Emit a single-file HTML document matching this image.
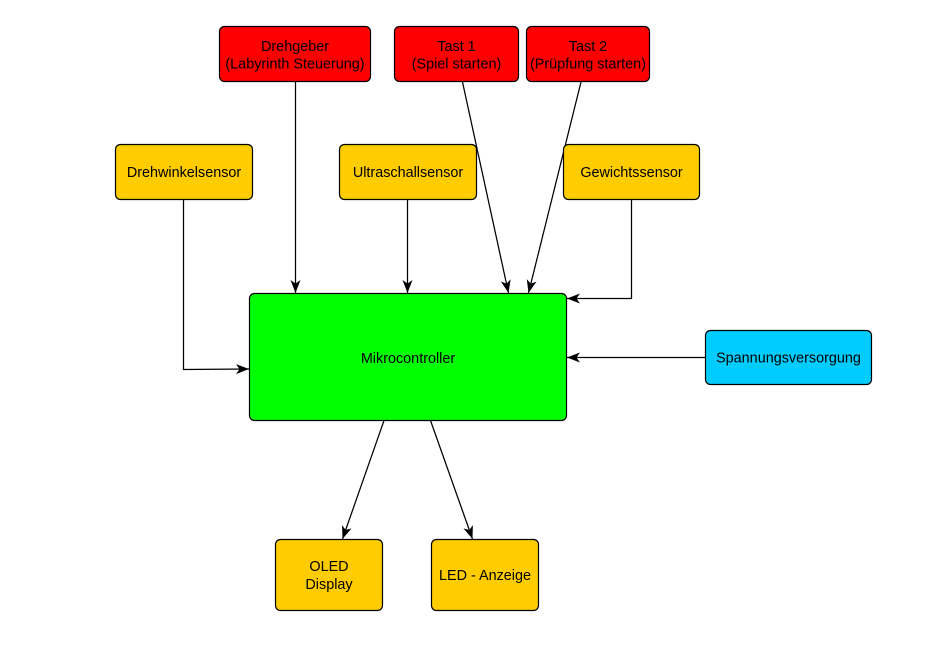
<!DOCTYPE html>
<html>
<head>
<meta charset="utf-8">
<style>
  html,body{margin:0;padding:0;background:#fff;}
  svg{display:block;}
  text{font-family:"Liberation Sans",Arial,sans-serif;font-size:14.4px;fill:#000;text-anchor:middle;}
</style>
</head>
<body>
<svg width="946" height="653" viewBox="0 0 946 653" xmlns="http://www.w3.org/2000/svg">
  <defs>
    <marker id="a" markerUnits="userSpaceOnUse" markerWidth="15" markerHeight="12" refX="13" refY="6" orient="auto">
      <path d="M0,1 L13,6 L0,11 L3.5,6 Z" fill="#000"/>
    </marker>
  </defs>

  <!-- connectors -->
  <g stroke="#000" stroke-width="1.25" fill="none" marker-end="url(#a)">
    <path d="M295.5,82 L295.5,293"/>
    <path d="M407.5,199.5 L407.5,293"/>
    <path d="M462.5,82 L508.5,293"/>
    <path d="M581,82 L528.5,293"/>
    <path d="M631.5,199.5 L631.5,298.5 L567,298.5"/>
    <path d="M705.5,357.5 L567,357.5"/>
    <path d="M183.5,199.5 L183.5,369.5 L249,369"/>
    <path d="M384,420.5 L342.5,539"/>
    <path d="M430.5,420.5 L472.5,539"/>
  </g>

  <!-- boxes -->
  <g stroke="#000" stroke-width="1.2">
    <rect x="219.5" y="26.5" width="151" height="55" rx="5" fill="#FF0000"/>
    <rect x="394.5" y="26.5" width="124" height="55" rx="5" fill="#FF0000"/>
    <rect x="526.5" y="26.5" width="123" height="55" rx="5" fill="#FF0000"/>
    <rect x="115.5" y="144.5" width="137" height="55" rx="5" fill="#FFCC00"/>
    <rect x="339.5" y="144.5" width="137" height="55" rx="5" fill="#FFCC00"/>
    <rect x="563.5" y="144.5" width="136" height="55" rx="5" fill="#FFCC00"/>
    <rect x="249.5" y="293.5" width="317" height="127" rx="5" fill="#00FF00"/>
    <rect x="705.5" y="330.5" width="166" height="54" rx="5" fill="#00CCFF"/>
    <rect x="275.5" y="539.5" width="107" height="71" rx="5" fill="#FFCC00"/>
    <rect x="431.5" y="539.5" width="107" height="71" rx="5" fill="#FFCC00"/>
  </g>

  <!-- labels -->
  <text x="295" y="51">Drehgeber</text>
  <text x="295" y="68.3">(Labyrinth Steuerung)</text>
  <text x="456.5" y="51">Tast 1</text>
  <text x="456.5" y="68.3">(Spiel starten)</text>
  <text x="588" y="51">Tast 2</text>
  <text x="588" y="68.3">(Prüpfung starten)</text>

  <text x="184" y="177">Drehwinkelsensor</text>
  <text x="408" y="177">Ultraschallsensor</text>
  <text x="631.5" y="177">Gewichtssensor</text>

  <text x="408" y="363">Mikrocontroller</text>
  <text x="788.5" y="362.5">Spannungsversorgung</text>

  <text x="329" y="571">OLED</text>
  <text x="329" y="589">Display</text>
  <text x="485" y="580">LED - Anzeige</text>
</svg>
</body>
</html>
